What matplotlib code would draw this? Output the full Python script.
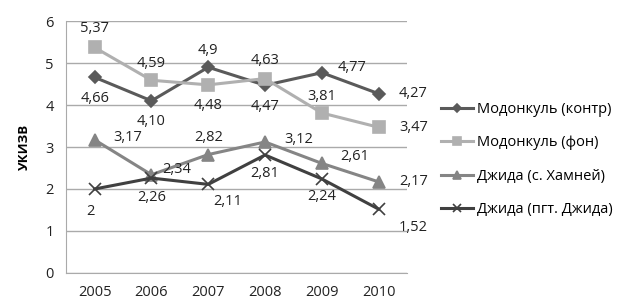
import matplotlib
matplotlib.use("Agg")
import matplotlib.pyplot as plt

years = ["2005", "2006", "2007", "2008", "2009", "2010"]

kontr = [4.66, 4.10, 4.9, 4.47, 4.77, 4.27]
kontr_lbl = ["4,66", "4,10", "4,9", "4,47", "4,77", "4,27"]
fon = [5.37, 4.59, 4.48, 4.63, 3.81, 3.47]
fon_lbl = ["5,37", "4,59", "4,48", "4,63", "3,81", "3,47"]
hamney = [3.17, 2.34, 2.82, 3.12, 2.61, 2.17]
hamney_lbl = ["3,17", "2,34", "2,82", "3,12", "2,61", "2,17"]
dzhida = [2, 2.26, 2.11, 2.81, 2.24, 1.52]
dzhida_lbl = ["2", "2,26", "2,11", "2,81", "2,24", "1,52"]

names = ["Модонкуль (контр)", "Модонкуль (фон)", "Джида (с. Хамней)", "Джида (пгт. Джида)"]

plt.rcParams['font.family'] = ['Open Sans', 'DejaVu Sans']

fig = plt.figure(figsize=(6.37, 3.05), dpi=100)
ax = fig.add_axes([0.104, 0.105, 0.535, 0.826])

x = list(range(len(years)))

# (values, labels, colour, marker, size, label offsets in points)
series = [
    (kontr, kontr_lbl, "#5a5a5a", "D", 6,
     [(0, -15), (0, -15), (0, 12), (0, -15), (22, 4), (25, 0)]),
    (fon, fon_lbl, "#b0b0b0", "s", 8,
     [(0, 14), (0, 12), (0, -15), (0, 13), (0, 12), (25, 0)]),
    (hamney, hamney_lbl, "#858585", "^", 8,
     [(24, 2), (18, 4), (0, 12), (24, 2), (24, 5), (25, 0)]),
    (dzhida, dzhida_lbl, "#404040", "x", 8,
     [(-3, -16), (0, -14), (14, -12), (0, -13), (0, -13), (25, -13)]),
]

for (vals, lbls, col, mk, ms, offs), name in zip(series, names):
    ax.plot(x, vals, color=col, marker=mk, markersize=ms, linewidth=2.2,
            markeredgewidth=1.2, label=name)
    for xi, v, t, o in zip(x, vals, lbls, offs):
        ax.annotate(t, (xi, v), xytext=o, textcoords="offset points",
                    ha="center", va="center", fontsize=10.5, color="#222222")

ax.set_xlim(-0.5, len(years) - 0.5)
ax.set_ylim(0, 6)
ax.set_yticks(range(0, 7))
ax.set_xticks(x)
ax.set_xticklabels(years)
ax.tick_params(length=0, labelsize=10.5, colors="#222222", pad=9)
ax.yaxis.grid(True, color="#aaaaaa", linewidth=1)
ax.set_axisbelow(True)
for s in ["top", "right"]:
    ax.spines[s].set_visible(False)
ax.spines["left"].set_color("#aaaaaa")
ax.spines["bottom"].set_color("#aaaaaa")
ax.set_ylabel("УКИЗВ", fontsize=9.5, fontweight="bold", labelpad=10)

ax.legend(loc="center left", bbox_to_anchor=(1.06, 0.45), frameon=False,
          fontsize=10.5, handlelength=2.2, handletextpad=0.3,
          labelspacing=1.25, markerscale=0.7)

fig.savefig("out.png", dpi=100)
